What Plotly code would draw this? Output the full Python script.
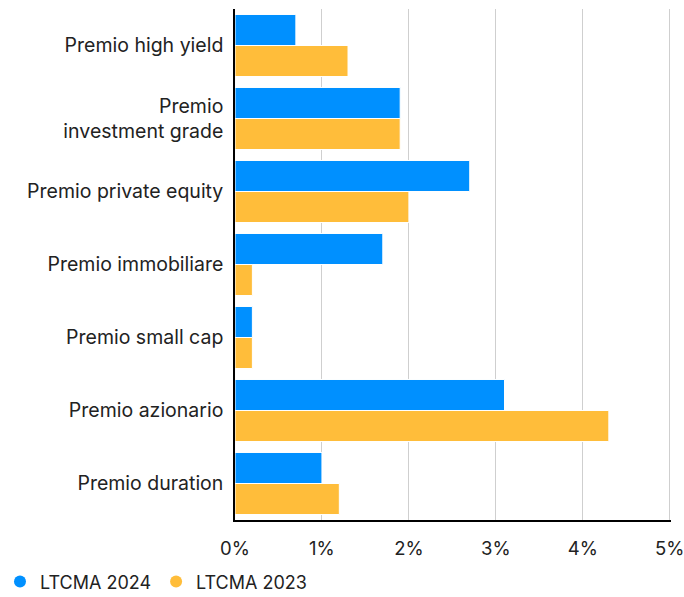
import plotly.graph_objects as go

categories = ["Premio high yield", "Premio<br>investment grade", "Premio private equity",
              "Premio immobiliare", "Premio small cap", "Premio azionario", "Premio duration"]
ltcma_2024 = [0.7, 1.9, 2.7, 1.7, 0.2, 3.1, 1.0]
ltcma_2023 = [1.3, 1.9, 2.0, 0.2, 0.2, 4.3, 1.2]
tick_vals = [0, 1, 2, 3, 4, 5]
tick_text = ["0%", "1%", "2%", "3%", "4%", "5%"]

BLUE = "#0090FF"
ORANGE = "#FFBD3A"
FONT = "Inter"
TXT = "#222222"

fig = go.Figure()
fig.add_trace(go.Bar(y=categories, x=ltcma_2024, orientation="h", name="LTCMA 2024",
                     marker=dict(color=BLUE, line=dict(color="white", width=1)), showlegend=False))
fig.add_trace(go.Bar(y=categories, x=ltcma_2023, orientation="h", name="LTCMA 2023",
                     marker=dict(color=ORANGE, line=dict(color="white", width=1)), showlegend=False))
fig.add_trace(go.Scatter(x=[None], y=[None], mode="markers", name="LTCMA 2024",
                         marker=dict(color=BLUE, size=14, symbol="circle")))
fig.add_trace(go.Scatter(x=[None], y=[None], mode="markers", name="LTCMA 2023",
                         marker=dict(color=ORANGE, size=14, symbol="circle")))

fig.update_layout(
    width=684, height=597,
    margin=dict(l=235, r=13, t=9, b=77, autoexpand=False),
    barmode="group", bargap=0.15, bargroupgap=0,
    plot_bgcolor="white", paper_bgcolor="white",
    font=dict(family=FONT, size=19, color=TXT),
    legend=dict(orientation="h", xref="container", yref="paper", x=-0.01, y=-0.121,
                xanchor="left", yanchor="middle", font=dict(size=18, color=TXT),
                itemsizing="constant", traceorder="normal"),
    xaxis=dict(range=[0, 5.015], tickvals=tick_vals, ticktext=tick_text, showgrid=True,
               gridcolor="#CFCFCF", gridwidth=1, showline=True, linecolor="black", linewidth=1.5,
               zeroline=False, ticks="", ticklabelstandoff=11, tickfont=dict(size=18.5),
               ticklabeloverflow="allow", fixedrange=True),
    yaxis=dict(autorange="reversed", showline=True, linecolor="black", linewidth=1.5,
               ticks="", ticklabelstandoff=6, showgrid=False, tickfont=dict(size=19.5)),
)

fig.write_html("out.html")
